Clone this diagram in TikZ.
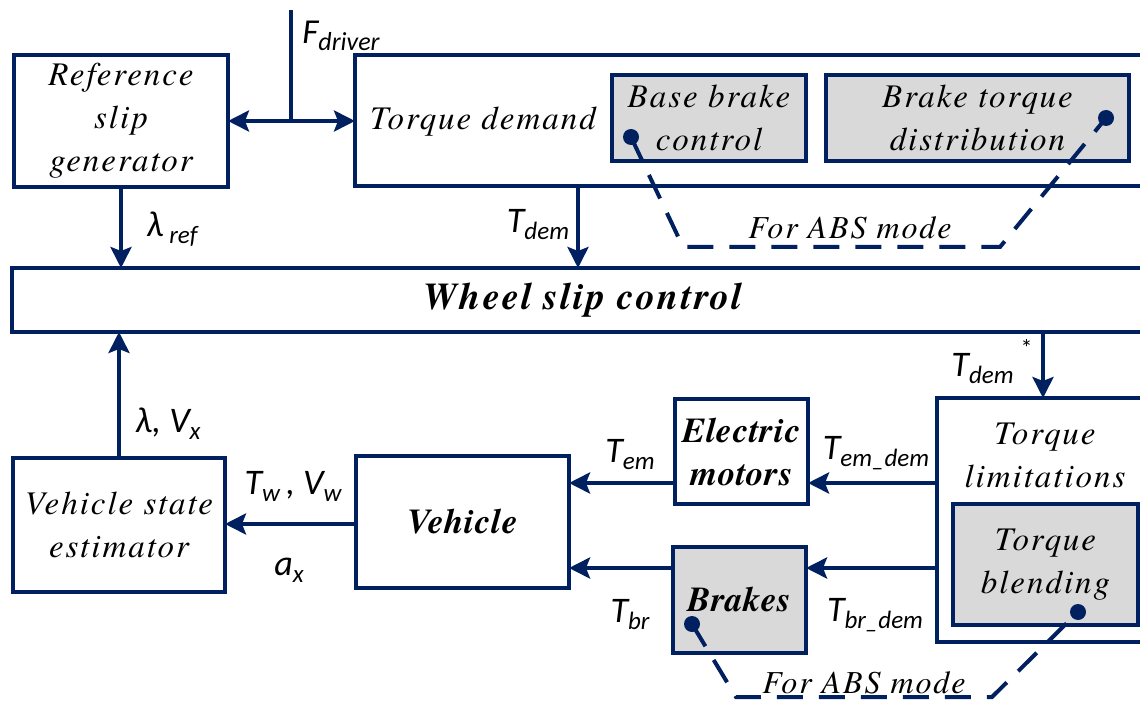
\documentclass[tikz,border=0pt]{standalone}
\usepackage{fontspec}
\setmainfont{texgyretermes}[Extension=.otf, UprightFont=*-regular, ItalicFont=*-italic, BoldFont=*-bold, BoldItalicFont=*-bolditalic, LetterSpace=6]
\newfontfamily\boldbi{texgyretermes-bolditalic}[Extension=.otf, LetterSpace=2]
\newfontfamily\labfont{Carlito}
\usetikzlibrary{arrows.meta,calc}
\definecolor{navy}{HTML}{002060}
\definecolor{boxgray}{HTML}{D9D9D9}
\newcommand{\lb}[2]{{\labfont\itshape\fontsize{36}{36}\selectfont #1\raisebox{-7pt}{\fontsize{25}{25}\selectfont #2}}}
\newcommand{\lbsmall}[2]{{\labfont\itshape\fontsize{35}{35}\selectfont #1\raisebox{-7pt}{\fontsize{26}{26}\selectfont #2}}}
\tikzset{
  box/.style={draw=navy, line width=4pt, rectangle, inner sep=0pt, outer sep=0pt, align=center,
    font=\fontsize{33}{43}\selectfont\itshape},
  boldbox/.style={box, font=\boldbi\fontsize{35}{43}\selectfont},
  graybox/.style={box, fill=boxgray},
  txt/.style={align=center, inner sep=0pt, font=\fontsize{33}{43}\selectfont\itshape},
  lbl/.style={inner sep=0pt},
  conn/.style={draw=navy, line width=4pt},
  arr/.style={conn, -{Stealth[length=21pt,width=21pt,inset=4pt]}},
  dot/.style={circle, fill=navy, inner sep=0pt, minimum size=16pt},
  absline/.style={draw=navy, line width=4pt, dash pattern=on 26pt off 16pt},
}
\begin{document}
\begin{tikzpicture}[x=1pt,y=-1pt]
\useasboundingbox (0,0) rectangle (1140,703);
\fill[white] (0,0) rectangle (1140,703);
\clip (0,0) rectangle (1140,703);

% top row
\node[box, minimum width=214pt, minimum height=132pt] (ref) at (121,121) {Reference\\slip\\generator};
\node[box, minimum width=805pt, minimum height=131pt] (td) at (757.5,120.5) {};
\node[txt] (tdt) at (483,122) {Torque demand};
\node[graybox, minimum width=194pt, minimum height=86pt] (bbc) at (709,118) {Base brake\\control};
\node[graybox, minimum width=303pt, minimum height=86pt] (btd) at (977.5,118) {Brake torque\\distribution};

% wheel slip control
\node[box, minimum width=1148pt, minimum height=64pt] (wsc) at (586,300) {};
\node[txt, font=\fontsize{38}{43}\selectfont\bfseries\itshape] (wsct) at (583,300) {Wheel slip control};

% bottom row
\node[box, minimum width=212pt, minimum height=134pt] (vse) at (119,525) {Vehicle state\\estimator};
\node[boldbox, minimum width=213pt, minimum height=132pt] (veh) at (462.5,522) {Vehicle};
\node[boldbox, minimum width=133pt, minimum height=105pt] (em) at (741.5,451.5) {Electric\\motors};
\node[boldbox, fill=boxgray, minimum width=133pt, minimum height=106pt] (br) at (739.5,600) {Brakes};
\node[box, minimum width=223pt, minimum height=244pt] (tl) at (1048.5,520) {};
\node[txt] (tlt) at (1045,455) {Torque\\limitations};
\node[graybox, minimum width=185pt, minimum height=121pt] (tb) at (1045.5,564.5) {Torque\\blending};

% ABS mode indicators
\node[dot] (d1) at (631,137) {};
\node[dot] (d2) at (1106,118) {};
\node[dot] (d3) at (692,624) {};
\node[dot] (d4) at (1078,612) {};
\coordinate (a1) at (683,247);
\coordinate (a2) at (1000,247);
\coordinate (b1) at (736,697);
\coordinate (b2) at (992,697);
\draw[absline] (d1.center) -- (a1) -- (a2) -- (d2.center);
\draw[absline] (d3.center) -- (b1) -- (b2) -- (d4.center);
\node[txt, font=\fontsize{32}{36}\selectfont\itshape] (abs1) at (850,228) {For ABS mode};
\node[txt, font=\fontsize{32}{36}\selectfont\itshape] (abs2) at (864,683) {For ABS mode};

% connectors
\coordinate (fd) at (291,10);
\coordinate (fj) at (291,121);
\draw[conn] (fd) -- (fj);
\draw[arr] (fj) -- (ref.east |- fj);
\draw[arr] (fj) -- (td.west |- fj);
\draw[arr] (ref.south) -- (ref.south |- wsc.north);
\coordinate (tdo) at (578,0);
\draw[arr] (td.south -| tdo) -- (wsc.north -| tdo);
\draw[arr] (vse.north) -- (vse.north |- wsc.south);
\coordinate (tso) at (1043,0);
\draw[arr] (wsc.south -| tso) -- (tl.north -| tso);
\coordinate (yem) at (0,483);
\coordinate (ybr) at (0,568);
\coordinate (yv) at (0,524);
\draw[arr] (tl.west |- yem) -- (em.east |- yem);
\draw[arr] (em.west |- yem) -- (veh.east |- yem);
\draw[arr] (tl.west |- ybr) -- (br.east |- ybr);
\draw[arr] (br.west |- ybr) -- (veh.east |- ybr);
\draw[arr] (veh.west |- yv) -- (vse.east |- yv);

% labels
\node[lbl] (lfd) at (341,36) {\lbsmall{F}{driver}};
\node[lbl] (llr) at (172,229) {\lb{λ\,}{ref}};
\node[lbl] (ltd) at (538,225) {\lb{T}{dem}};
\node[lbl] (ltds) at (992,362) {\lb{T}{dem}\hspace{7pt}\raisebox{20pt}{\fontsize{24}{24}\selectfont\labfont *}};
\node[lbl] (llv) at (168,424) {\lb{λ, V}{x}};
\node[lbl] (ltw) at (293,486) {\lb{T}{w}{\labfont\itshape\fontsize{36}{36}\selectfont\,, V}\raisebox{-7pt}{\labfont\itshape\fontsize{25}{25}\selectfont w}};
\node[lbl] (lax) at (289,570) {\lb{a}{x}};
\node[lbl] (lte) at (630,455) {\lb{T}{em}};
\node[lbl] (lted) at (876,453) {\lb{T}{em\_dem}};
\node[lbl] (ltb) at (630,615) {\lb{T}{br}};
\node[lbl] (ltbd) at (875,615) {\lb{T}{br\_dem}};
\end{tikzpicture}
\end{document}
